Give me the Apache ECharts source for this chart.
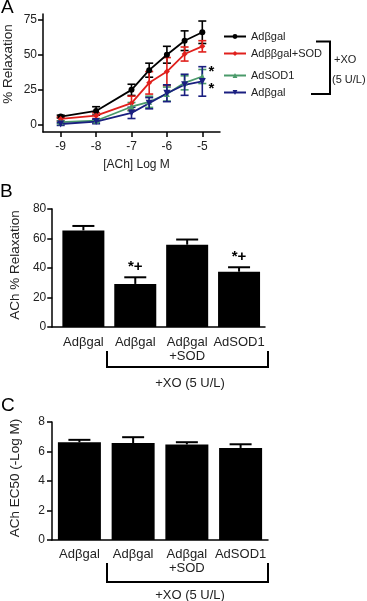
<!DOCTYPE html>
<html><head><meta charset="utf-8">
<script src="https://cdn.jsdelivr.net/npm/echarts@6/dist/echarts.min.js"></script>
<style>html,body{margin:0;padding:0;background:#fff}#c{width:367px;height:601px}</style>
</head><body><div id="c"></div>
<script>
// ---------- Panel A data ----------
const concA = [-9, -8, -7, -6.5, -6, -5.5, -5];
const xTicksA = [-9, -8, -7, -6, -5];
const yTicksA = [0, 25, 50, 75];
const ctrlVal = [6, 10, 25, 39, 50, 60, 66];
const ctrlErr = [1, 3, 4, 5, 6, 7, 8];
const sodVal = [4.3, 6.6, 15.5, 30, 38, 50.5, 56];
const sodErr = [1.5, 2, 5, 8, 10, 5, 4];
const sod1Val = [2, 3, 13, 16.5, 22, 30, 34.5];
const sod1Err = [1, 1, 3, 4, 5, 5, 5];
const xoVal = [0.7, 2.4, 8.6, 15.5, 22.6, 28.6, 31];
const xoErr = [1, 1.5, 4, 4, 6, 7.5, 10.5];
const namesA = ['Adβgal', 'Adββgal+SOD', 'AdSOD1', 'Adβgal '];
// ---------- Panel B data ----------
const catsBC = ['Adβgal', 'Adβgal', 'Adβgal\n+SOD', 'AdSOD1'];
const relaxVal = [65.5, 29.2, 55.8, 37.5];
const relaxErr = [3, 4.5, 3.5, 3];
const relaxSig = ['', '*+', '', '*+'];
// ---------- Panel C data ----------
const ec50Val = [6.62, 6.57, 6.48, 6.24];
const ec50Err = [0.17, 0.4, 0.15, 0.25];

const FONT = '"Liberation Sans", Arial, sans-serif';
const colors = ['#000000', '#e0201c', '#4a9a6a', '#1a1f80'];
const symbols = ['circle', 'diamond', 'triangle', 'path://M0,0 L10,0 L5,9 Z'];

const chart = echarts.init(document.getElementById('c'), null, {renderer: 'canvas'});

function errA(params, api) {
  const x = api.value(0), y = api.value(1), e = api.value(2);
  const p = api.coord([x, y + e]), q = api.coord([x, y - e]);
  const w = 4;
  const st = {stroke: api.visual('color'), lineWidth: 1.6};
  return {type: 'group', children: [
    {type: 'line', shape: {x1: p[0], y1: p[1], x2: q[0], y2: q[1]}, style: st},
    {type: 'line', shape: {x1: p[0] - w, y1: p[1], x2: p[0] + w, y2: p[1]}, style: st},
    {type: 'line', shape: {x1: q[0] - w, y1: q[1], x2: q[0] + w, y2: q[1]}, style: st}
  ]};
}
function errBar(params, api) {
  const x = api.value(0), y = api.value(1), e = api.value(2);
  const p = api.coord([x, y + e]), q = api.coord([x, y]);
  const w = 11;
  const st = {stroke: '#000', lineWidth: 2};
  const ch = [
    {type: 'line', shape: {x1: p[0], y1: p[1], x2: q[0], y2: q[1]}, style: st},
    {type: 'line', shape: {x1: p[0] - w, y1: p[1], x2: p[0] + w, y2: p[1]}, style: st}
  ];
  const sig = params.seriesName === 'relaxErr' ? relaxSig[params.dataIndex] : '';
  if (sig) ch.push({type: 'text', x: p[0], y: p[1] - 3, style: {text: sig, font: 'bold 15px ' + FONT, fill: '#000', align: 'center', verticalAlign: 'bottom'}});
  return {type: 'group', children: ch};
}

const axisLine = {show: true, onZero: false, lineStyle: {color: '#000', width: 1.5}};
const axisTickOn = {show: true, length: 5, lineStyle: {color: '#000', width: 1.5}};
const lab = {color: '#222', fontSize: 12, fontFamily: FONT};

const seriesA = [];
const valsA = [ctrlVal, sodVal, sod1Val, xoVal];
const errsA = [ctrlErr, sodErr, sod1Err, xoErr];
for (let k = 0; k < 4; k++) {
  seriesA.push({
    type: 'custom', name: namesA[k] + '_err', xAxisIndex: 0, yAxisIndex: 0,
    renderItem: errA, itemStyle: {color: colors[k]},
    data: concA.map((c, i) => [c, valsA[k][i], errsA[k][i]]), z: 3, silent: true
  });
  seriesA.push({
    type: 'line', name: namesA[k], xAxisIndex: 0, yAxisIndex: 0,
    data: concA.map((c, i) => [c, valsA[k][i]]),
    symbol: symbols[k], symbolSize: k === 3 ? 7 : 6, showAllSymbol: true,
    lineStyle: {color: colors[k], width: 1.8}, itemStyle: {color: colors[k]}, z: 4
  });
}

const option = {
  animation: false,
  backgroundColor: '#fff',
  textStyle: {fontFamily: FONT},
  grid: [
    {left: 42, top: 14, width: 178, height: 118},
    {left: 40, top: 209, width: 225, height: 118},
    {left: 45, top: 422, width: 223, height: 118}
  ],
  legend: [
    {data: [namesA[0], namesA[1]], orient: 'vertical', left: 218, top: 26, itemWidth: 22, itemHeight: 6, itemGap: 6,
     formatter: n => n.trim(), textStyle: {fontSize: 11, color: '#222', fontFamily: FONT}},
    {data: [namesA[2], namesA[3]], orient: 'vertical', left: 218, top: 65, itemWidth: 22, itemHeight: 6, itemGap: 6,
     formatter: n => n.trim(), textStyle: {fontSize: 11, color: '#222', fontFamily: FONT}}
  ],
  xAxis: [
    {type: 'value', gridIndex: 0, min: -9.5, max: -4.5, splitLine: {show: false},
     axisLine: axisLine, axisTick: Object.assign({customValues: xTicksA}, axisTickOn),
     axisLabel: Object.assign({customValues: xTicksA, margin: 9}, lab),
     name: '[ACh] Log M', nameLocation: 'middle', nameGap: 27,
     nameTextStyle: {fontSize: 12, color: '#222', fontFamily: FONT, padding: [0, 0, 0, 10]}},
    {type: 'value', gridIndex: 1, min: -0.6, max: 3.5, splitLine: {show: false},
     axisLine: axisLine, axisTick: {show: false},
     axisLabel: {customValues: [0, 1, 2, 3], formatter: v => catsBC[Math.round(v)], fontSize: 13, color: '#222', fontFamily: FONT, margin: 8, lineHeight: 14}},
    {type: 'value', gridIndex: 2, min: -0.51, max: 3.51, splitLine: {show: false},
     axisLine: axisLine, axisTick: {show: false},
     axisLabel: {customValues: [0, 1, 2, 3], formatter: v => catsBC[Math.round(v)], fontSize: 13, color: '#222', fontFamily: FONT, margin: 7, lineHeight: 14}}
  ],
  yAxis: [
    {type: 'value', gridIndex: 0, min: -5, max: 79, splitLine: {show: false},
     axisLine: axisLine, axisTick: Object.assign({customValues: yTicksA}, axisTickOn),
     axisLabel: Object.assign({customValues: yTicksA, margin: 6}, lab),
     name: '% Relaxation', nameLocation: 'middle', nameGap: 28,
     nameTextStyle: {fontSize: 13.5, color: '#222', fontFamily: FONT, padding: [0, 0, 0, 18]}},
    {type: 'value', gridIndex: 1, min: 0, max: 80, interval: 20, splitLine: {show: false},
     axisLine: axisLine, axisTick: axisTickOn, axisLabel: Object.assign({margin: 6}, lab),
     name: 'ACh % Relaxation', nameLocation: 'middle', nameGap: 25,
     nameTextStyle: {fontSize: 13.5, color: '#222', fontFamily: FONT, padding: [0, 0, 0, 6]}},
    {type: 'value', gridIndex: 2, min: 0, max: 8, interval: 2, splitLine: {show: false},
     axisLine: axisLine, axisTick: axisTickOn, axisLabel: Object.assign({margin: 7}, lab),
     name: 'ACh EC50 (-Log M)', nameLocation: 'middle', nameGap: 30,
     nameTextStyle: {fontSize: 13.5, color: '#222', fontFamily: FONT, padding: [0, 0, 0, 6]}}
  ],
  series: seriesA.concat([
    {type: 'bar', name: 'relax', xAxisIndex: 1, yAxisIndex: 1, barWidth: 42,
     data: relaxVal.map((v, i) => [i, v]), itemStyle: {color: '#000'}, z: 2},
    {type: 'custom', name: 'relaxErr', xAxisIndex: 1, yAxisIndex: 1, renderItem: errBar,
     data: relaxVal.map((v, i) => [i, v, relaxErr[i]]), z: 3, silent: true},
    {type: 'bar', name: 'ec50', xAxisIndex: 2, yAxisIndex: 2, barWidth: 43,
     data: ec50Val.map((v, i) => [i, v]), itemStyle: {color: '#000'}, z: 2},
    {type: 'custom', name: 'ec50Err', xAxisIndex: 2, yAxisIndex: 2, renderItem: errBar,
     data: ec50Val.map((v, i) => [i, v, ec50Err[i]]), z: 3, silent: true}
  ]),
  graphic: [
    {type: 'text', left: 1, top: -2, style: {text: 'A', font: '19px ' + FONT, fill: '#000'}},
    {type: 'text', left: 0, top: 182, style: {text: 'B', font: '19px ' + FONT, fill: '#000'}},
    {type: 'text', left: 1, top: 396, style: {text: 'C', font: '19px ' + FONT, fill: '#000'}},
    {type: 'text', x: 211.5, y: 72, style: {text: '*', font: 'bold 15px ' + FONT, fill: '#000', align: 'center', verticalAlign: 'middle'}},
    {type: 'text', x: 211.5, y: 89, style: {text: '*', font: 'bold 15px ' + FONT, fill: '#000', align: 'center', verticalAlign: 'middle'}},
    {type: 'polyline', shape: {points: [[316, 41.5], [330, 41.5], [330, 94], [311, 94]]}, style: {stroke: '#000', lineWidth: 2, fill: null}},
    {type: 'text', x: 334, y: 60, style: {text: '+XO', font: '11px ' + FONT, fill: '#222', verticalAlign: 'middle'}},
    {type: 'text', x: 332, y: 80, style: {text: '(5 U/L)', font: '11px ' + FONT, fill: '#222', verticalAlign: 'middle'}},
    {type: 'polyline', shape: {points: [[107, 351], [107, 367], [268, 367], [268, 351]]}, style: {stroke: '#000', lineWidth: 2, fill: null}},
    {type: 'text', x: 190, y: 383, style: {text: '+XO (5 U/L)', font: '13px ' + FONT, fill: '#222', align: 'center', verticalAlign: 'middle'}},
    {type: 'polyline', shape: {points: [[107, 563], [107, 582], [268, 582], [268, 563]]}, style: {stroke: '#000', lineWidth: 2, fill: null}},
    {type: 'text', x: 190, y: 595, style: {text: '+XO (5 U/L)', font: '13px ' + FONT, fill: '#222', align: 'center', verticalAlign: 'middle'}}
  ]
};
chart.setOption(option);
</script>
</body></html>
